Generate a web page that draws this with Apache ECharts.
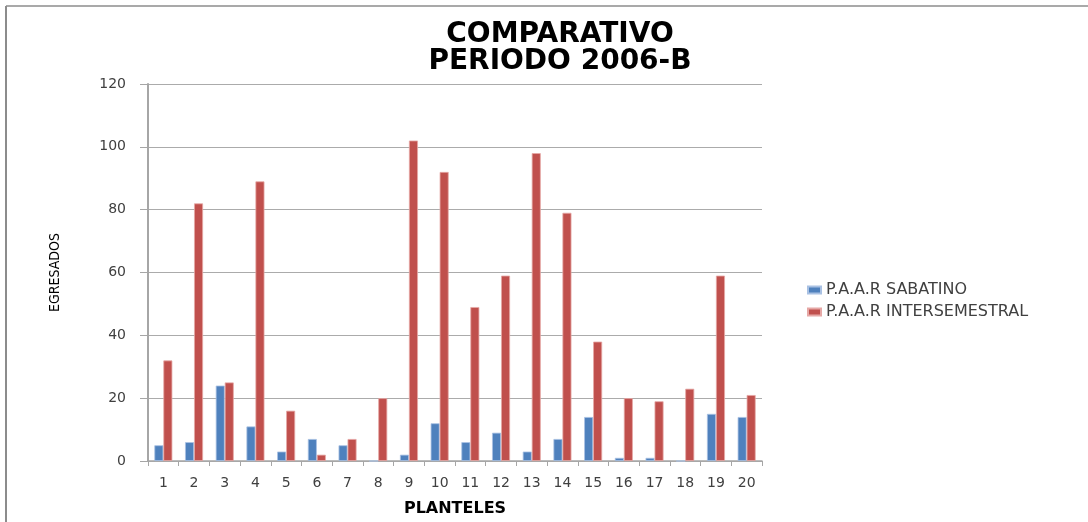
<!DOCTYPE html>
<html>
<head>
<meta charset="utf-8">
<script src="https://cdn.jsdelivr.net/npm/echarts@6/dist/echarts.min.js"></script>
<style>
  html, body { margin: 0; padding: 0; background: #fff; }
  #chart { width: 1088px; height: 522px; }
</style>
</head>
<body>
<div id="chart"></div>
<script>
// Planteles (categorías del eje X)
const planteles = ['1','2','3','4','5','6','7','8','9','10','11','12','13','14','15','16','17','18','19','20'];
// Egresados por plantel
const sabatino = [5, 6, 24, 11, 3, 7, 5, 0, 2, 12, 6, 9, 3, 7, 14, 1, 1, 0, 15, 14];
const intersemestral = [32, 82, 25, 89, 16, 2, 7, 20, 102, 92, 49, 59, 98, 79, 38, 20, 19, 23, 59, 21];
const seriesNames = ['P.A.A.R SABATINO', 'P.A.A.R INTERSEMESTRAL'];
const yTicks = { min: 0, max: 120, interval: 20 };

const chart = echarts.init(document.getElementById('chart'), null, { renderer: 'canvas' });
const tickFont = { color: '#404040', fontFamily: 'DejaVu Sans', fontSize: 14 };

chart.setOption({
  animation: false,
  backgroundColor: '#ffffff',
  title: {
    text: 'COMPARATIVO\nPERIODO 2006-B',
    left: 555,
    textAlign: 'center',
    top: 16,
    textStyle: {
      fontFamily: 'DejaVu Sans',
      fontWeight: 'bold',
      fontSize: 28,
      lineHeight: 27,
      color: '#000'
    }
  },
  legend: {
    orient: 'vertical',
    left: 802,
    top: 277,
    itemWidth: 13,
    itemHeight: 7,
    itemGap: 6,
    icon: 'rect',
    data: seriesNames,
    textStyle: { color: '#404040', fontFamily: 'DejaVu Sans', fontSize: 16 }
  },
  grid: { left: 148, right: 326, top: 84, bottom: 60, containLabel: false },
  xAxis: {
    type: 'category',
    data: planteles,
    name: 'PLANTELES',
    nameLocation: 'middle',
    nameGap: 40,
    nameTextStyle: { fontFamily: 'DejaVu Sans', fontWeight: 'bold', fontSize: 16, color: '#000' },
    axisLine: { lineStyle: { color: '#a6a6a6', width: 1.5 } },
    axisTick: { show: true, length: 5, lineStyle: { color: '#a6a6a6' } },
    axisLabel: Object.assign({ margin: 15, interval: 0 }, tickFont)
  },
  yAxis: {
    type: 'value',
    min: yTicks.min,
    max: yTicks.max,
    interval: yTicks.interval,
    name: 'EGRESADOS',
    nameLocation: 'middle',
    nameGap: 86,
    nameRotate: 90,
    nameTextStyle: { fontFamily: 'DejaVu Sans Condensed, Liberation Sans, sans-serif', fontSize: 14, color: '#000' },
    axisLine: { show: true, lineStyle: { color: '#a6a6a6', width: 2 } },
    axisTick: { show: true, inside: false, length: 8, lineStyle: { color: '#a6a6a6' } },
    axisLabel: Object.assign({ margin: 22 }, tickFont),
    splitLine: { lineStyle: { color: '#ababab', width: 1 } }
  },
  series: [
    {
      name: seriesNames[0],
      type: 'bar',
      data: sabatino,
      barWidth: 9,
      barGap: '0%',
      itemStyle: { color: '#4f81bd', borderColor: '#a9c1e3', borderWidth: 0.8 }
    },
    {
      name: seriesNames[1],
      type: 'bar',
      data: intersemestral,
      barWidth: 9,
      barGap: '0%',
      itemStyle: { color: '#c0504d', borderColor: '#e6a8a6', borderWidth: 0.8 }
    }
  ],
  graphic: [
    { type: 'line', shape: { x1: 6, y1: 6, x2: 6, y2: 522 }, style: { stroke: '#8c8c8c', lineWidth: 2 } },
    { type: 'line', shape: { x1: 6, y1: 6, x2: 1088, y2: 6 }, style: { stroke: '#8c8c8c', lineWidth: 1.5 } }
  ]
});
</script>
</body>
</html>
